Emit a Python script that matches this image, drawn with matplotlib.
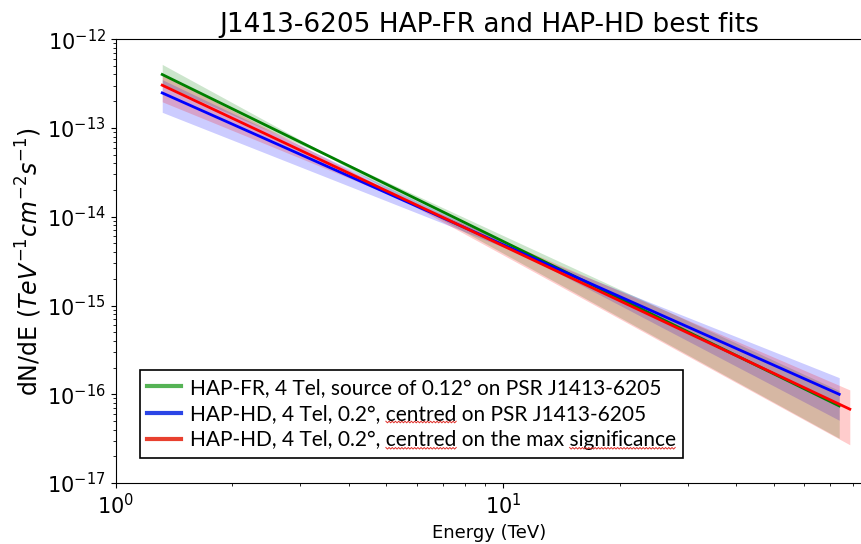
import numpy as np
import matplotlib
matplotlib.use("Agg")
import matplotlib.pyplot as plt
from matplotlib.lines import Line2D
from matplotlib.text import Text

# Best-fit power laws (end points of each line), TeV and TeV^-1 cm^-2 s^-1
fr_energy = [1.32, 73.8]
fr_flux = [4.0e-13, 7.4e-17]
hd_psr_energy = [1.32, 73.8]
hd_psr_flux = [2.48e-13, 1.0e-16]
hd_max_energy = [1.32, 78.6]
hd_max_flux = [3.03e-13, 6.8e-17]

# Butterflies: start, pivot, end
fr_band_energy = [1.32, 3.5, 73.8]
fr_band_upper = [5.2e-13, 5.1e-14, 1.1e-16]
fr_band_lower = [3.1e-13, 4.85e-14, 3.2e-17]
hd_psr_band_energy = [1.32, 11.4, 73.8]
hd_psr_band_upper = [3.5e-13, 3.95e-15, 1.54e-16]
hd_psr_band_lower = [1.5e-13, 3.65e-15, 5.1e-17]
hd_max_band_energy = [1.32, 5.5, 78.6]
hd_max_band_upper = [4.0e-13, 1.65e-14, 1.12e-16]
hd_max_band_lower = [1.97e-13, 1.55e-14, 2.7e-17]

x_ticks = [1, 10]
y_ticks = [1e-17, 1e-16, 1e-15, 1e-14, 1e-13, 1e-12]

labels = ["HAP-FR, 4 Tel, source of 0.12° on PSR J1413-6205",
          "HAP-HD, 4 Tel, 0.2°, centred on PSR J1413-6205",
          "HAP-HD, 4 Tel, 0.2°, centred on the max significance"]
# words flagged by the spell checker in the pasted legend
flagged = [(1, "centred"), (2, "centred"), (2, "significance")]

fig = plt.figure(figsize=(8.62, 5.44), dpi=100)
ax = fig.add_axes([0.134, 0.112, 0.866, 0.816])

series = [
    (fr_band_energy, fr_band_lower, fr_band_upper, fr_energy, fr_flux, "green"),
    (hd_psr_band_energy, hd_psr_band_lower, hd_psr_band_upper, hd_psr_energy, hd_psr_flux, "blue"),
    (hd_max_band_energy, hd_max_band_lower, hd_max_band_upper, hd_max_energy, hd_max_flux, "red"),
]
for band_e, lo, up, e, f, color in series:
    ax.plot(e, f, color=color, lw=2)
    ax.fill_between(band_e, lo, up, color=color, alpha=0.2, lw=0)

ax.set_xscale("log")
ax.set_yscale("log")
ax.set_xticks(x_ticks)
ax.set_yticks(y_ticks)
ax.set_xlim(1, 84.5)
ax.set_ylim(1e-17, 1e-12)
ax.spines["right"].set_visible(False)
ax.tick_params(labelsize=15)

ax.set_title("J1413-6205 HAP-FR and HAP-HD best fits", fontsize=19, pad=5)
ax.set_xlabel("Energy (TeV)", fontsize=13)
ax.set_ylabel("dN/dE ($TeV^{-1}cm^{-2}s^{-1}$)", fontsize=17, labelpad=2)

handles = [Line2D([], [], color=c, lw=3) for c in ["#55b355", "#2b45e6", "#e8402f"]]
leg = ax.legend(handles, labels, loc="lower left", bbox_to_anchor=(0.019, 0.034),
                fancybox=False, edgecolor="black", framealpha=1,
                prop={"family": "Lato", "size": 15}, handlelength=1.6,
                handletextpad=0.45, labelspacing=0.3, borderpad=0.35)
leg.get_frame().set_linewidth(1.2)

# red wavy spell-check underlines
fig.canvas.draw()
renderer = fig.canvas.get_renderer()
texts = leg.get_texts()
for row, word in flagged:
    t = texts[row]
    s = t.get_text()
    bb = t.get_window_extent(renderer)
    start = s.index(word)
    def width(sub):
        tmp = Text(0, 0, sub, fontproperties=t.get_fontproperties())
        tmp.set_figure(fig)
        return tmp.get_window_extent(renderer).width
    x0 = bb.x0 + width(s[:start] + "x") - width("x")
    x1 = bb.x0 + width(s[:start + len(word)] + "x") - width("x")
    xs = np.arange(x0, x1, 1.6)
    ys = bb.y0 + 2 + np.where(np.arange(len(xs)) % 2 == 0, 0.8, -0.8)
    fig.add_artist(Line2D(xs, ys, color="#e0302a", lw=0.7, transform=None))

fig.savefig("out.png", dpi=100)
